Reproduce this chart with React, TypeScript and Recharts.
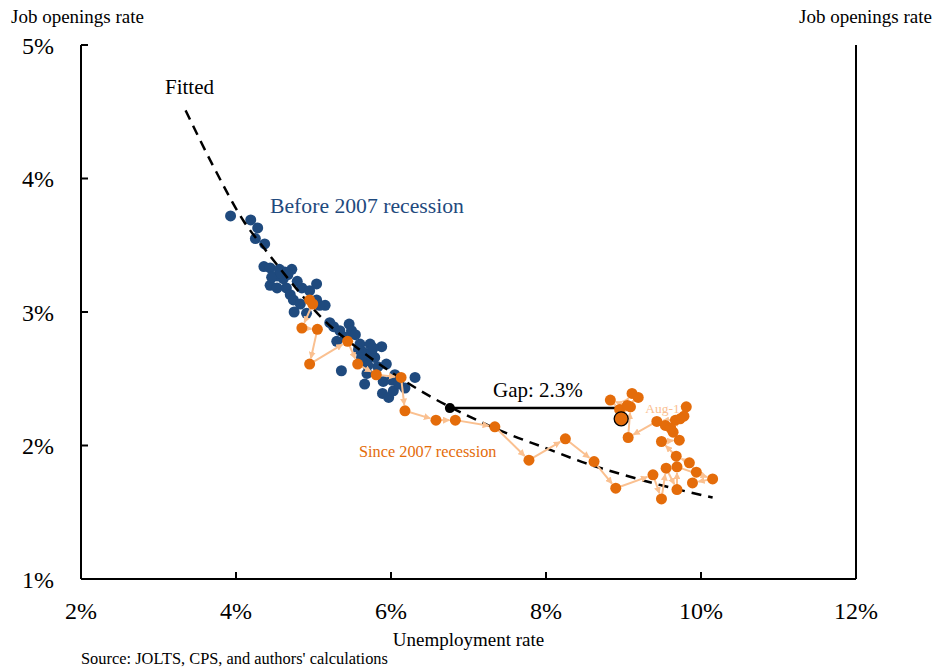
import { ScatterChart, Scatter, XAxis, YAxis } from "recharts";

// unemployment rate (%) / job openings rate (%), before the 2007 recession
const beforeUnemp = [
  3.93, 4.19, 4.28, 4.25, 4.37, 4.36, 4.44, 4.56, 4.72, 4.63, 4.53, 4.61, 4.44, 4.53,
  4.65, 4.70, 4.74, 4.85, 5.04, 4.95, 5.04, 5.15, 4.75, 4.91, 5.21, 5.26, 5.34, 5.46,
  5.49, 5.30, 5.60, 5.73, 5.88, 5.64, 5.69, 5.79, 5.94, 5.36, 5.69, 5.66, 5.90, 6.01,
  6.31, 5.89, 5.97, 6.03, 6.18, 5.54, 4.46, 4.79, 4.83, 5.41, 5.75, 6.05, 5.83, 5.08,
  4.58, 4.67, 5.58, 5.77, 5.62, 5.70, 6.10,
];
const beforeOpenings = [
  3.72, 3.69, 3.63, 3.55, 3.51, 3.34, 3.33, 3.32, 3.32, 3.30, 3.27, 3.25, 3.20, 3.18,
  3.18, 3.13, 3.09, 3.18, 3.21, 3.16, 3.09, 3.05, 3.00, 2.99, 2.92, 2.89, 2.86, 2.91,
  2.86, 2.78, 2.76, 2.76, 2.74, 2.70, 2.64, 2.66, 2.61, 2.56, 2.54, 2.46, 2.48, 2.49,
  2.51, 2.39, 2.36, 2.41, 2.43, 2.83, 3.26, 3.23, 3.06, 2.81, 2.70, 2.53, 2.59, 3.05,
  3.29, 3.28, 2.72, 2.73, 2.66, 2.60, 2.46,
];

// Dec-07 .. Aug-11, monthly
const sinceUnemp = [
  4.95, 4.99, 4.85, 5.05, 4.95, 5.44, 5.57, 5.81, 6.13, 6.18, 6.58, 6.83, 7.34,
  7.78, 8.25, 8.62, 8.90, 9.38, 9.49, 9.55, 9.69, 9.69, 10.15, 9.89, 9.94,
  9.85, 9.68, 9.49, 9.72, 9.64, 9.54, 9.67, 9.61, 9.78, 9.81, 9.73, 9.43,
  9.06, 9.09, 8.83, 8.95, 9.11, 9.19, 9.05, 8.97,
];
const sinceOpenings = [
  3.09, 3.06, 2.88, 2.87, 2.61, 2.78, 2.61, 2.53, 2.51, 2.26, 2.19, 2.19, 2.14,
  1.89, 2.05, 1.88, 1.68, 1.78, 1.60, 1.83, 1.67, 1.84, 1.75, 1.72, 1.80,
  1.87, 1.92, 2.03, 2.04, 2.10, 2.15, 2.19, 2.13, 2.22, 2.29, 2.20, 2.18,
  2.06, 2.29, 2.34, 2.27, 2.39, 2.36, 2.30, 2.20,
];

const fittedUnemp = [3.35, 3.7, 4.1, 4.4, 4.8, 5.1, 5.5, 6.0, 6.5, 7.0, 7.5, 8.0, 8.5, 9.0, 9.5, 10.15];
const fittedOpenings = [4.51, 4.1, 3.68, 3.45, 3.16, 2.96, 2.76, 2.55, 2.37, 2.22, 2.09, 1.98, 1.87, 1.78, 1.7, 1.61];

const gapUnemp = [6.76, 8.92];
const gapOpenings = [2.28, 2.28];

const xTicks = [2, 4, 6, 8, 10, 12];
const yTicks = [1, 2, 3, 4, 5];

const before = beforeUnemp.map((x, i) => ({ x, y: beforeOpenings[i] }));
const since = sinceUnemp.map((x, i) => ({ x, y: sinceOpenings[i] }));
const fitted = fittedUnemp.map((x, i) => ({ x, y: fittedOpenings[i] }));
const gap = gapUnemp.map((x, i) => ({ x, y: gapOpenings[i] }));

const BLUE = "#1F4A7E";
const ORANGE = "#E46C0A";
const LIGHT = "#FAC090";
const FONT = "'Liberation Serif', 'Times New Roman', serif";

const pct = (v: number) => `${v}%`;

const ArrowPath = (props: any) => {
  const pts = props.points || [];
  const segs = [];
  for (let i = 0; i < pts.length - 1; i++) {
    const a = pts[i];
    const b = pts[i + 1];
    const dx = b.x - a.x;
    const dy = b.y - a.y;
    const len = Math.hypot(dx, dy);
    if (len < 8) continue;
    const ex = b.x - (dx / len) * 6;
    const ey = b.y - (dy / len) * 6;
    segs.push(
      <line key={i} x1={a.x} y1={a.y} x2={ex} y2={ey} stroke={LIGHT} strokeWidth={2} markerEnd="url(#arw)" />
    );
  }
  const last = pts[pts.length - 1];
  return (
    <g>
      <defs>
        <marker id="arw" viewBox="0 0 10 10" refX="9" refY="5" markerWidth="3.5" markerHeight="3.5" orient="auto">
          <path d="M0,0 L10,5 L0,10 z" fill={LIGHT} />
        </marker>
      </defs>
      {segs}
      {last && (
        <text x={last.x + 24} y={last.y - 6} fontSize={13.5} fill={LIGHT} fontFamily={FONT}>
          Aug-11
        </text>
      )}
    </g>
  );
};

const SinceDot = (p: any) => {
  const isLast = p.payload && p.payload.x === sinceUnemp[sinceUnemp.length - 1] && p.payload.y === sinceOpenings[sinceOpenings.length - 1];
  return isLast ? (
    <circle cx={p.cx} cy={p.cy} r={7} fill={ORANGE} stroke="#000" strokeWidth={1.3} />
  ) : (
    <circle cx={p.cx} cy={p.cy} r={5.5} fill={ORANGE} />
  );
};

const GapDot = (p: any) =>
  p.payload && p.payload.x === gapUnemp[0] ? <circle cx={p.cx} cy={p.cy} r={5} fill="#000" /> : <g />;

const tickStyle = { fill: "#000", fontSize: 24, fontFamily: FONT };

export default function App() {
  return (
    <div style={{ position: "absolute", left: 0, top: 0, width: 938, height: 669, background: "#fff", fontFamily: FONT }}>
      <ScatterChart width={938} height={669} margin={{ top: 45, right: 0, bottom: 0, left: 0 }}>
        <XAxis
          type="number"
          dataKey="x"
          domain={[2, 12]}
          ticks={xTicks}
          tickFormatter={pct}
          height={90}
          axisLine={{ stroke: "#000", strokeWidth: 2 }}
          tickLine={{ stroke: "#000", strokeWidth: 2 }}
          tickSize={-7}
          tickMargin={30}
          tick={tickStyle}
          interval={0}
        />
        <YAxis
          yAxisId="l"
          type="number"
          dataKey="y"
          domain={[1, 5]}
          ticks={yTicks}
          tickFormatter={pct}
          width={81}
          axisLine={{ stroke: "#000", strokeWidth: 2 }}
          tickLine={{ stroke: "#000", strokeWidth: 2 }}
          tickSize={-7}
          tickMargin={34}
          tick={tickStyle}
          interval={0}
        />
        <YAxis
          yAxisId="r"
          orientation="right"
          type="number"
          dataKey="y"
          domain={[1, 5]}
          ticks={yTicks}
          tickFormatter={pct}
          width={82}
          axisLine={{ stroke: "#000", strokeWidth: 2 }}
          tickLine={{ stroke: "#000", strokeWidth: 2 }}
          tickSize={-7}
          tickMargin={27}
          tick={tickStyle}
          interval={0}
        />
        <Scatter
          yAxisId="l"
          data={before}
          isAnimationActive={false}
          shape={(p: any) => <circle cx={p.cx} cy={p.cy} r={5.5} fill={BLUE} />}
        />
        <Scatter
          yAxisId="l"
          data={fitted}
          isAnimationActive={false}
          line={{ stroke: "#000", strokeWidth: 2.5, strokeDasharray: "10 7" }}
          lineJointType="monotoneX"
          shape={() => <g />}
        />
        <Scatter
          yAxisId="l"
          data={gap}
          isAnimationActive={false}
          line={{ stroke: "#000", strokeWidth: 2.5 }}
          shape={GapDot}
        />
        <Scatter
          yAxisId="l"
          data={since}
          isAnimationActive={false}
          line={ArrowPath}
          shape={SinceDot}
        />
      </ScatterChart>
      <svg width={938} height={669} style={{ position: "absolute", left: 0, top: 0, pointerEvents: "none" }} fontFamily={FONT}>
        <text x={11} y={23} fontSize={19}>Job openings rate</text>
        <text x={932} y={23} fontSize={19} textAnchor="end">Job openings rate</text>
        <text x={165} y={94} fontSize={21}>Fitted</text>
        <text x={270} y={213} fontSize={21.7} fill={BLUE}>Before 2007 recession</text>
        <text x={493} y={397} fontSize={21}>Gap: 2.3%</text>
        <text x={359} y={457} fontSize={16.3} fill={ORANGE}>Since 2007 recession</text>
        <text x={468.5} y={646} fontSize={19} textAnchor="middle">Unemployment rate</text>
        <text x={81} y={664} fontSize={16.4}>Source: JOLTS, CPS, and authors' calculations</text>
      </svg>
    </div>
  );
}
